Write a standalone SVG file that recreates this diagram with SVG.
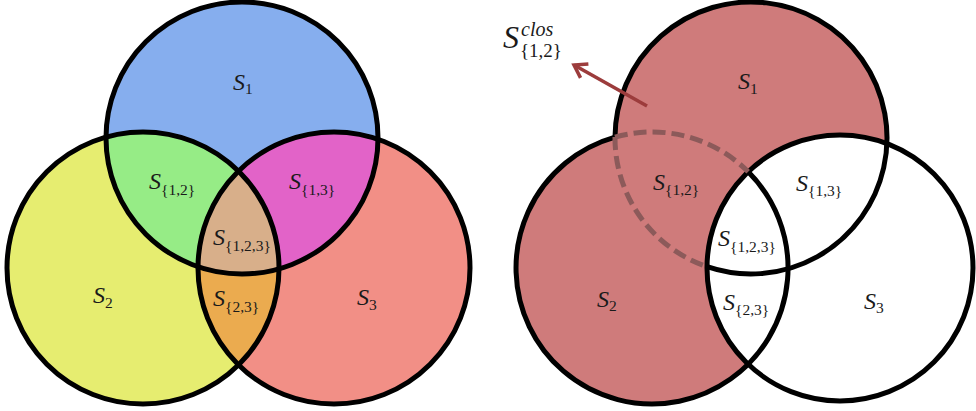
<svg xmlns="http://www.w3.org/2000/svg" width="976" height="411" viewBox="0 0 976 411">
<style>
.ol{fill:none;stroke:#000;stroke-width:5}
.dash{fill:none;stroke:#8c5a5a;stroke-width:5;stroke-dasharray:13 6}
.lbl{font-family:"Liberation Serif","DejaVu Serif",serif;fill:#1a1a1a}
.s{font-style:italic;font-size:24px}
.sub{font-size:15.5px}
.big{font-style:italic;font-size:32px}
.sup{font-style:italic;font-size:20px}
.sub2{font-size:19px}
</style>
<defs>
<clipPath id="c1"><circle cx="242" cy="138" r="136"/></clipPath>
<clipPath id="c2"><circle cx="143" cy="268" r="136"/></clipPath>
<marker id="ah" viewBox="0 0 20 20" refX="17" refY="10" markerWidth="20" markerHeight="20" markerUnits="userSpaceOnUse" orient="auto">
<path d="M5 2 L17 10 L5 18" fill="none" stroke="#9c3c3c" stroke-width="3.5"/>
</marker>
</defs>
<rect width="976" height="411" fill="#fff"/>
<g id="left">
<g id="L-S1"><circle cx="242" cy="138" r="136" fill="#86aeee"/></g>
<g id="L-S2"><circle cx="143" cy="268" r="136" fill="#e6ed70"/></g>
<g id="L-S3"><circle cx="334" cy="268" r="136" fill="#f28f86"/></g>
<g id="L-S12"><circle cx="143" cy="268" r="136" fill="#96ec86" clip-path="url(#c1)"/></g>
<g id="L-S13"><circle cx="334" cy="268" r="136" fill="#e263c8" clip-path="url(#c1)"/></g>
<g id="L-S23"><circle cx="334" cy="268" r="136" fill="#ebab4f" clip-path="url(#c2)"/></g>
<g id="L-S123" clip-path="url(#c2)"><circle cx="334" cy="268" r="136" fill="#d8af8a" clip-path="url(#c1)"/></g>
<g id="L-outlines">
<circle class="ol" cx="242" cy="138" r="136"/>
<circle class="ol" cx="143" cy="268" r="136"/>
<circle class="ol" cx="334" cy="268" r="136"/>
</g>
<g class="lbl">
<text x="233" y="90"><tspan class="s">S</tspan><tspan class="sub" dy="4">1</tspan></text>
<text x="149" y="189"><tspan class="s">S</tspan><tspan class="sub" dy="6">{1,2}</tspan></text>
<text x="289" y="189"><tspan class="s">S</tspan><tspan class="sub" dy="6">{1,3}</tspan></text>
<text x="213" y="245"><tspan class="s">S</tspan><tspan class="sub" dy="6">{1,2,3}</tspan></text>
<text x="93" y="303"><tspan class="s">S</tspan><tspan class="sub" dy="5">2</tspan></text>
<text x="213" y="306"><tspan class="s">S</tspan><tspan class="sub" dy="6">{2,3}</tspan></text>
<text x="357" y="305"><tspan class="s">S</tspan><tspan class="sub" dy="5">3</tspan></text>
</g>
</g>
<g id="right">
<g id="R-fill">
<circle cx="751" cy="138" r="136" fill="#cf7b7b"/>
<circle cx="652" cy="268" r="136" fill="#cf7b7b"/>
<circle cx="840" cy="268" r="133" fill="#fff"/>
</g>
<g id="R-S3"><circle class="ol" cx="840" cy="268" r="133"/></g>
<g id="R-S1"><path class="ol" d="M707.1 266.7 A136 136 0 1 0 615 137.1"/></g>
<g id="R-S2"><path class="ol" d="M748.2 171.8 A136 136 0 1 1 615 137.1"/></g>
<g id="R-clos">
<path class="dash" d="M615 137.1 A136 136 0 0 0 707.1 266.7"/>
<path class="dash" d="M615 137.1 A136 136 0 0 1 748.2 171.8"/>
</g>
<g id="connectors">
<line x1="647" y1="106" x2="574" y2="65" stroke="#9c3c3c" stroke-width="3.5" marker-end="url(#ah)"/>
</g>
<g class="lbl">
<text x="503" y="48" class="big">S</text>
<text x="521" y="36" class="sup">clos</text>
<text x="520" y="57" class="sub2">{1,2}</text>
<text x="738" y="89"><tspan class="s">S</tspan><tspan class="sub" dy="5">1</tspan></text>
<text x="653" y="190"><tspan class="s">S</tspan><tspan class="sub" dy="5">{1,2}</tspan></text>
<text x="796" y="191"><tspan class="s">S</tspan><tspan class="sub" dy="5">{1,3}</tspan></text>
<text x="718" y="246"><tspan class="s">S</tspan><tspan class="sub" dy="6">{1,2,3}</tspan></text>
<text x="597" y="307"><tspan class="s">S</tspan><tspan class="sub" dy="4">2</tspan></text>
<text x="723" y="310"><tspan class="s">S</tspan><tspan class="sub" dy="5">{2,3}</tspan></text>
<text x="864" y="309"><tspan class="s">S</tspan><tspan class="sub" dy="4">3</tspan></text>
</g>
</g>
</svg>
